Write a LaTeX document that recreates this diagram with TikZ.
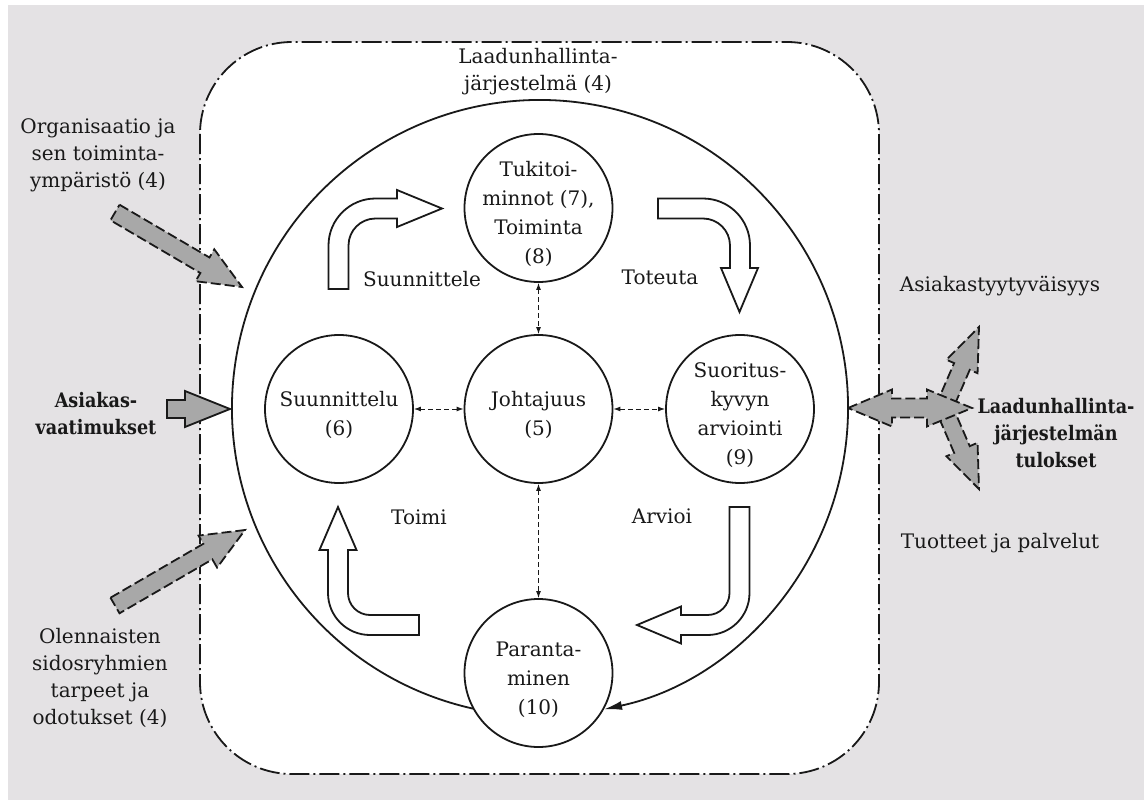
\documentclass[tikz,border=0pt]{standalone}
\usepackage{fontspec}
\setmainfont{DejaVu Serif}
\newfontfamily\boldser{DejaVu Serif Bold}[FakeStretch=0.88]
\usetikzlibrary{arrows.meta,calc}
\definecolor{bggray}{RGB}{228,226,228}
\definecolor{arrgray}{RGB}{168,168,168}
\definecolor{ink}{RGB}{25,25,25}
\newcommand\grayarr[6][]{%
  \coordinate (ga-b) at ($(#3)!#4!(#2)$);
  \draw[grayarrow,#1] ($(#2)!#5!90:(#3)$) -- ($(ga-b)!#5!90:(#3)$) -- ($(ga-b)!#6!90:(#3)$) -- (#3)
    -- ($(ga-b)!#6!-90:(#3)$) -- ($(ga-b)!#5!-90:(#3)$) -- ($(#2)!#5!-90:(#3)$) -- cycle;}
\begin{document}
\begin{tikzpicture}[x=1pt,y=-1pt,
  txt/.style={font=\fontsize{20}{27}\selectfont, text=ink, align=center, inner sep=0pt},
  btxt/.style={txt, font=\fontsize{20}{27}\selectfont\boldser},
  ctxt/.style={txt, font=\fontsize{20}{29}\selectfont},
  proc/.style={circle, draw=ink, line width=1.8pt, minimum size=148pt, inner sep=0pt, fill=white},
  link/.style={draw=ink, line width=1pt, dash pattern=on 5pt off 3pt, {Latex[length=7pt,width=5pt]}-{Latex[length=7pt,width=5pt]}},
  hollow/.style={draw=ink, line width=1.8pt, fill=white, line join=miter},
  grayarrow/.style={draw=ink, fill=arrgray, line width=1.8pt, dash pattern=on 10pt off 4pt, line join=miter},
  dashdot/.style={draw=ink, line width=1.8pt, dash pattern=on 20pt off 4pt on 2pt off 4pt}
  ]
\useasboundingbox (0,0) rectangle (1144,800);
\fill[white] (0,0) rectangle (1144,800);
\fill[bggray] (8,5) rectangle (1144,800);
% system boundary
\draw[dashdot, fill=white, rounded corners=92pt] (200,42) rectangle (879,774);
% big cycle
\draw[draw=ink, line width=1.8pt, -{Latex[length=18pt,width=9pt]}] (540,408) ++(102.5:308) arc[start angle=102.5, end angle=438, radius=308];
% process circles
\node[proc] (suun) at (339,409) {};
\node[proc] (joht) at (538.5,409) {};
\node[proc] (suor) at (740,409) {};
\node[proc] (tuki) at (538.5,208) {};
\node[proc] (para) at (538.5,673) {};
\node[ctxt] (suunT) at (339,415) {Suunnittelu\\(6)};
\node[ctxt] (johtT) at (538.5,415) {Johtajuus\\(5)};
\node[ctxt] (suorT) at (740,415) {Suoritus-\\kyvyn\\arviointi\\(9)};
\node[ctxt] (tukiT) at (538.5,214) {Tukitoi-\\minnot (7),\\Toiminta\\(8)};
\node[ctxt] (paraT) at (538.5,680) {Paranta-\\minen\\(10)};
% links
\draw[link] (suun) -- (joht);
\draw[link] (joht) -- (suor);
\draw[link] (tuki) -- (joht);
\draw[link] (joht) -- (para);
% hollow cycle arrows
\draw[hollow] (328.5,289) -- (328.5,245.5) arc[start angle=180,end angle=270,radius=47] -- (397,198.5) -- (397,190) -- (442,208.5) -- (397,227) -- (397,218.5) -- (375.5,218.5) arc[start angle=270,end angle=180,radius=27] -- (348.5,289) -- cycle;
\draw[hollow] (658,198.5) -- (703,198.5) arc[start angle=270,end angle=360,radius=47] -- (750,268) -- (758,268) -- (739.5,312) -- (721,268) -- (730,268) -- (730,245.5) arc[start angle=0,end angle=-90,radius=27] -- (658,218.5) -- cycle;
\draw[hollow] (729.5,507) -- (749.5,507) -- (749.5,593) arc[start angle=0,end angle=90,radius=42] -- (681,635) -- (681,643.5) -- (637,625) -- (681,606.5) -- (681,615) -- (707.5,615) arc[start angle=90,end angle=0,radius=22] -- cycle;
\draw[hollow] (419,635) -- (370,635) arc[start angle=90,end angle=180,radius=42] -- (328,550) -- (319.5,550) -- (338,507) -- (356.5,550) -- (348,550) -- (348,593) arc[start angle=180,end angle=90,radius=22] -- (419,615) -- cycle;
\node[txt] (l1) at (422,279) {Suunnittele};
\node[txt] (l2) at (660,277) {Toteuta};
\node[txt] (l3) at (419,517) {Toimi};
\node[txt] (l4) at (662,516) {Arvioi};
% inputs
\coordinate (orgT) at (115,212.5); \coordinate (orgP) at (242,287);
\coordinate (vaaT) at (167,409);   \coordinate (vaaP) at (230,409);
\coordinate (sidT) at (115,605.5); \coordinate (sidP) at (245,530);
\grayarr{orgT}{orgP}{43pt}{9pt}{18.5pt}
\grayarr[solid]{vaaT}{vaaP}{45pt}{9pt}{18pt}
\grayarr{sidT}{sidP}{43pt}{9pt}{18.5pt}
% outputs
\coordinate (outO) at (944,408);
\coordinate (satP) at (979,327);
\coordinate (proP) at (979,489);
\grayarr{outO}{satP}{43pt}{8.5pt}{17pt}
\grayarr{outO}{proP}{43pt}{8.5pt}{17pt}
\draw[grayarrow] (848,408) -- (892,389.5) -- (892,398.5) -- (927,398.5) -- (927,389.5) -- (972,408) -- (927,426.5) -- (927,417.5) -- (892,417.5) -- (892,426.5) -- cycle;
% labels
\node[txt] (qms) at (538,72) {Laadunhallinta-\\järjestelmä (4)};
\node[txt] (org) at (98,155) {Organisaatio ja\\sen toiminta-\\ympäristö (4)};
\node[btxt] (vaa) at (96,414) {Asiakas-\\vaatimukset};
\node[txt] (sid) at (100,678) {Olennaisten\\sidosryhmien\\tarpeet ja\\odotukset (4)};
\node[txt] (sat) at (1000,286) {Asiakastyytyväisyys};
\node[btxt] (res) at (1056,433) {Laadunhallinta-\\järjestelmän\\tulokset};
\node[txt] (pro) at (1000,543) {Tuotteet ja palvelut};
\end{tikzpicture}
\end{document}
